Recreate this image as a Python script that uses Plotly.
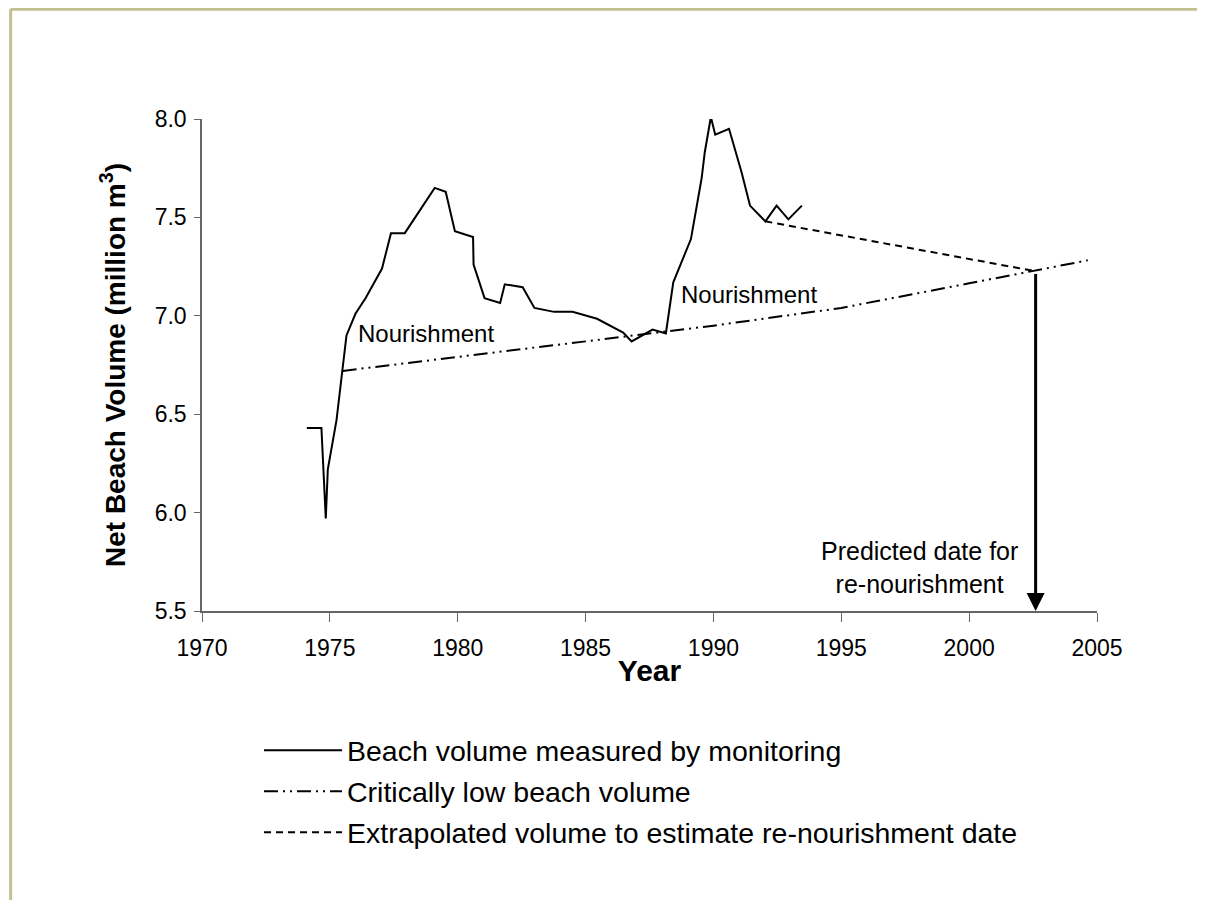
import plotly.graph_objects as go

# beach volume read from the monitoring record
years_measured = [1974.1, 1974.67, 1974.84, 1974.92, 1975.26, 1975.48, 1975.65, 1976.0, 1976.4,
                  1977.04, 1977.39, 1977.93, 1979.1, 1979.53, 1979.89, 1980.6, 1980.62, 1981.05,
                  1981.66, 1981.84, 1982.54, 1983.0, 1983.77, 1984.49, 1985.45, 1986.47, 1986.8,
                  1987.62, 1988.14, 1988.43, 1989.12, 1989.54, 1989.66, 1989.9, 1990.07, 1990.61,
                  1991.1, 1991.43, 1992.03, 1992.47, 1992.93, 1993.46]
volume_measured = [6.43, 6.43, 5.97, 6.22, 6.47, 6.72, 6.9, 7.01, 7.09,
                   7.24, 7.42, 7.42, 7.65, 7.63, 7.43, 7.40, 7.26, 7.09,
                   7.065, 7.16, 7.145, 7.04, 7.02, 7.02, 6.985, 6.915, 6.87,
                   6.93, 6.91, 7.17, 7.39, 7.70, 7.83, 8.01, 7.92, 7.95,
                   7.73, 7.56, 7.48, 7.56, 7.49, 7.56]

years_critical = [1975.5, 1980, 1985, 1990, 1995, 2000, 2004.64]
volume_critical = [6.72, 6.79, 6.87, 6.95, 7.04, 7.165, 7.282]

years_extrap = [1992.03, 2002.45]
volume_extrap = [7.48, 7.23]

predicted_year = 2002.6
arrow_top = 7.22

nourish_years = [1978.77, 1991.38]
nourish_vol = [6.91, 7.11]

x_ticks = [1970, 1975, 1980, 1985, 1990, 1995, 2000, 2005]
y_ticks = [5.5, 6.0, 6.5, 7.0, 7.5, 8.0]

font = "Liberation Sans, Arial, sans-serif"
border = "#c4bf90"

fig = go.Figure()
fig.add_trace(go.Scatter(x=years_measured, y=volume_measured, mode="lines",
                         name="Beach volume measured by monitoring", legendgroup="a",
                         line=dict(color="black", width=2)))
fig.add_trace(go.Scatter(x=years_critical, y=volume_critical, mode="lines",
                         name="Critically low beach volume", legendgroup="b",
                         line=dict(color="black", width=2, dash="14px,5px,2px,5px,2px,5px")))
fig.add_trace(go.Scatter(x=years_extrap, y=volume_extrap, mode="lines",
                         name="Extrapolated volume to estimate re-nourishment date", legendgroup="c",
                         line=dict(color="black", width=2, dash="7px,5px")))

for xx, yy in zip(nourish_years, nourish_vol):
    fig.add_annotation(x=xx, y=yy, text="Nourishment", showarrow=False,
                       font=dict(size=24, color="black", family=font))

fig.add_annotation(x=predicted_year, y=5.5, ax=predicted_year, ay=arrow_top,
                   xref="x", yref="y", axref="x", ayref="y",
                   showarrow=True, arrowhead=2, arrowsize=1.2, arrowwidth=3, arrowcolor="black", text="")
fig.add_annotation(x=1998.07, y=5.72, text="Predicted date for<br>re-nourishment", showarrow=False,
                   font=dict(size=25, color="black", family=font))

# figure frame (top and left edges of the original picture)
fig.add_shape(type="line", xref="paper", yref="paper", x0=-0.214, x1=1.25, y0=1.2232, y1=1.2232,
              line=dict(color=border, width=3))
fig.add_shape(type="line", xref="paper", yref="paper", x0=-0.2138, x1=-0.2138, y0=1.2232, y1=-0.62,
              line=dict(color=border, width=3))

fig.update_layout(
    width=1205, height=900,
    margin=dict(l=194, r=116, t=111, b=297),
    paper_bgcolor="white", plot_bgcolor="white",
    font=dict(family=font, color="black"),
    showlegend=True,
    legend=dict(x=0.0637, y=-0.232, xanchor="left", yanchor="top", tracegroupgap=1,
                font=dict(size=28.5, color="black", family=font), itemwidth=78,
                bgcolor="rgba(0,0,0,0)"),
)
fig.update_xaxes(range=[1970, 2005], tickvals=x_ticks, showgrid=False, zeroline=False,
                 showline=True, linecolor="#666666", linewidth=1.5,
                 ticks="outside", ticklen=9, tickcolor="#666666", tickwidth=1,
                 tickfont=dict(size=23, family=font), ticklabelstandoff=7,
                 title=dict(text="<b>Year</b>", font=dict(size=30, family=font), standoff=0))
fig.update_yaxes(range=[5.5, 8.0], tickvals=y_ticks, tickformat=".1f", showgrid=False, zeroline=False,
                 showline=True, linecolor="#666666", linewidth=1.5,
                 ticks="outside", ticklen=6, tickcolor="#666666", tickwidth=1,
                 tickfont=dict(size=23, family=font), ticklabelstandoff=3,
                 title=dict(text="<b>Net Beach Volume (million m<sup>3</sup>)</b>",
                            font=dict(size=28, family=font), standoff=21))

fig.write_html("out.html")
